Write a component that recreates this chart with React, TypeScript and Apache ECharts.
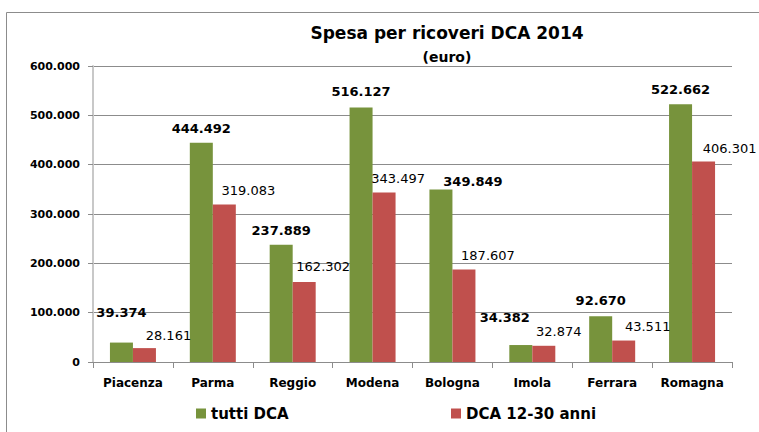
import React, { useEffect, useRef } from "react";
import * as echarts from "echarts";

const categories = ["Piacenza", "Parma", "Reggio", "Modena", "Bologna", "Imola", "Ferrara", "Romagna"];
const tuttiDCA = [39374, 444492, 237889, 516127, 349849, 34382, 92670, 522662];
const dca1230 = [28161, 319083, 162302, 343497, 187607, 32874, 43511, 406301];
const yTicks = { min: 0, max: 600000, interval: 100000 };

// label nudges (style only, not data)
const greenLabelOffsets = [[0, -16], [0, 0], [0, 0], [0, -1], [32, 7], [-16, -13], [0, -1], [0, 0]];
const redLabelOffsets = [[24, 2], [24, 0], [19, -1], [14, 0], [24, 1], [15, 0], [24, 0], [26, 1]];

const FONT = "DejaVu Sans";
const fmt = (v: number) => String(Math.round(v)).replace(/\B(?=(\d{3})+(?!\d))/g, ".");

export default function App() {
  const ref = useRef<HTMLDivElement>(null);
  useEffect(() => {
    if (!ref.current) return;
    const chart = echarts.init(ref.current, undefined, { renderer: "svg" });
    chart.setOption({
      animation: false,
      backgroundColor: "#ffffff",
      textStyle: { fontFamily: FONT },
      title: [
        {
          text: "Spesa per ricoveri DCA 2014",
          left: 442,
          top: 19,
          textAlign: "center",
          textStyle: { fontFamily: FONT, fontSize: 17, fontWeight: "bold", color: "#000" },
        },
        {
          text: "(euro)",
          left: 442,
          top: 45,
          textAlign: "center",
          textStyle: { fontFamily: FONT, fontSize: 14, fontWeight: "bold", color: "#000" },
        },
      ],
      graphic: [
        {
          type: "rect",
          shape: { x: 6.5, y: 12.5, width: 800, height: 500 },
          style: { fill: "none", stroke: "#8c8c8c", lineWidth: 1 },
          silent: true,
        },
      ],
      legend: [
        {
          data: ["tutti DCA"],
          left: 191,
          top: 401,
          icon: "rect",
          itemWidth: 10,
          itemHeight: 10,
          itemGap: 0,
          textStyle: { fontFamily: FONT, fontSize: 15, fontWeight: "bold", color: "#000" },
        },
        {
          data: ["DCA 12-30 anni"],
          left: 446,
          top: 401,
          icon: "rect",
          itemWidth: 10,
          itemHeight: 10,
          itemGap: 0,
          textStyle: { fontFamily: FONT, fontSize: 15, fontWeight: "bold", color: "#000" },
        },
      ],
      grid: { left: 93, right: 27, top: 66, bottom: 70, containLabel: false },
      xAxis: {
        type: "category",
        data: categories,
        axisLine: { show: true, lineStyle: { color: "#8c8c8c", width: 1 } },
        axisTick: { show: true, alignWithLabel: false, interval: 0, length: 6, lineStyle: { color: "#8c8c8c" } },
        axisLabel: {
          interval: 0,
          hideOverlap: false,
          margin: 15,
          fontFamily: FONT,
          fontSize: 12,
          fontWeight: "bold",
          color: "#000",
        },
      },
      yAxis: {
        type: "value",
        min: yTicks.min,
        max: yTicks.max,
        interval: yTicks.interval,
        axisLine: { show: true, lineStyle: { color: "#c8c8c8", width: 2 } },
        axisTick: { show: true, length: 5, lineStyle: { color: "#8c8c8c" } },
        splitLine: { show: true, lineStyle: { color: "#8c8c8c", width: 1 } },
        axisLabel: {
          margin: 13,
          fontFamily: FONT,
          fontSize: 11,
          fontWeight: "bold",
          color: "#000",
          formatter: (v: number) => fmt(v),
        },
      },
      series: [
        {
          name: "tutti DCA",
          type: "bar",
          barWidth: 23,
          barGap: "0%",
          itemStyle: { color: "#77933C" },
          data: tuttiDCA.map((v, i) => ({
            value: v,
            label: { offset: greenLabelOffsets[i] },
          })),
          label: {
            show: true,
            position: "top",
            distance: 8,
            fontFamily: FONT,
            fontSize: 13,
            fontWeight: "bold",
            color: "#000",
            formatter: (p: any) => fmt(p.value),
          },
        },
        {
          name: "DCA 12-30 anni",
          type: "bar",
          barWidth: 23,
          barGap: "0%",
          itemStyle: { color: "#C0504D" },
          data: dca1230.map((v, i) => ({
            value: v,
            label: { offset: redLabelOffsets[i] },
          })),
          label: {
            show: true,
            position: "top",
            distance: 8,
            fontFamily: FONT,
            fontSize: 13,
            fontWeight: "normal",
            color: "#000",
            formatter: (p: any) => fmt(p.value),
          },
        },
      ],
    });
    return () => chart.dispose();
  }, []);
  return <div ref={ref} style={{ position: "fixed", left: 0, top: 0, width: 759, height: 432 }} />;
}
